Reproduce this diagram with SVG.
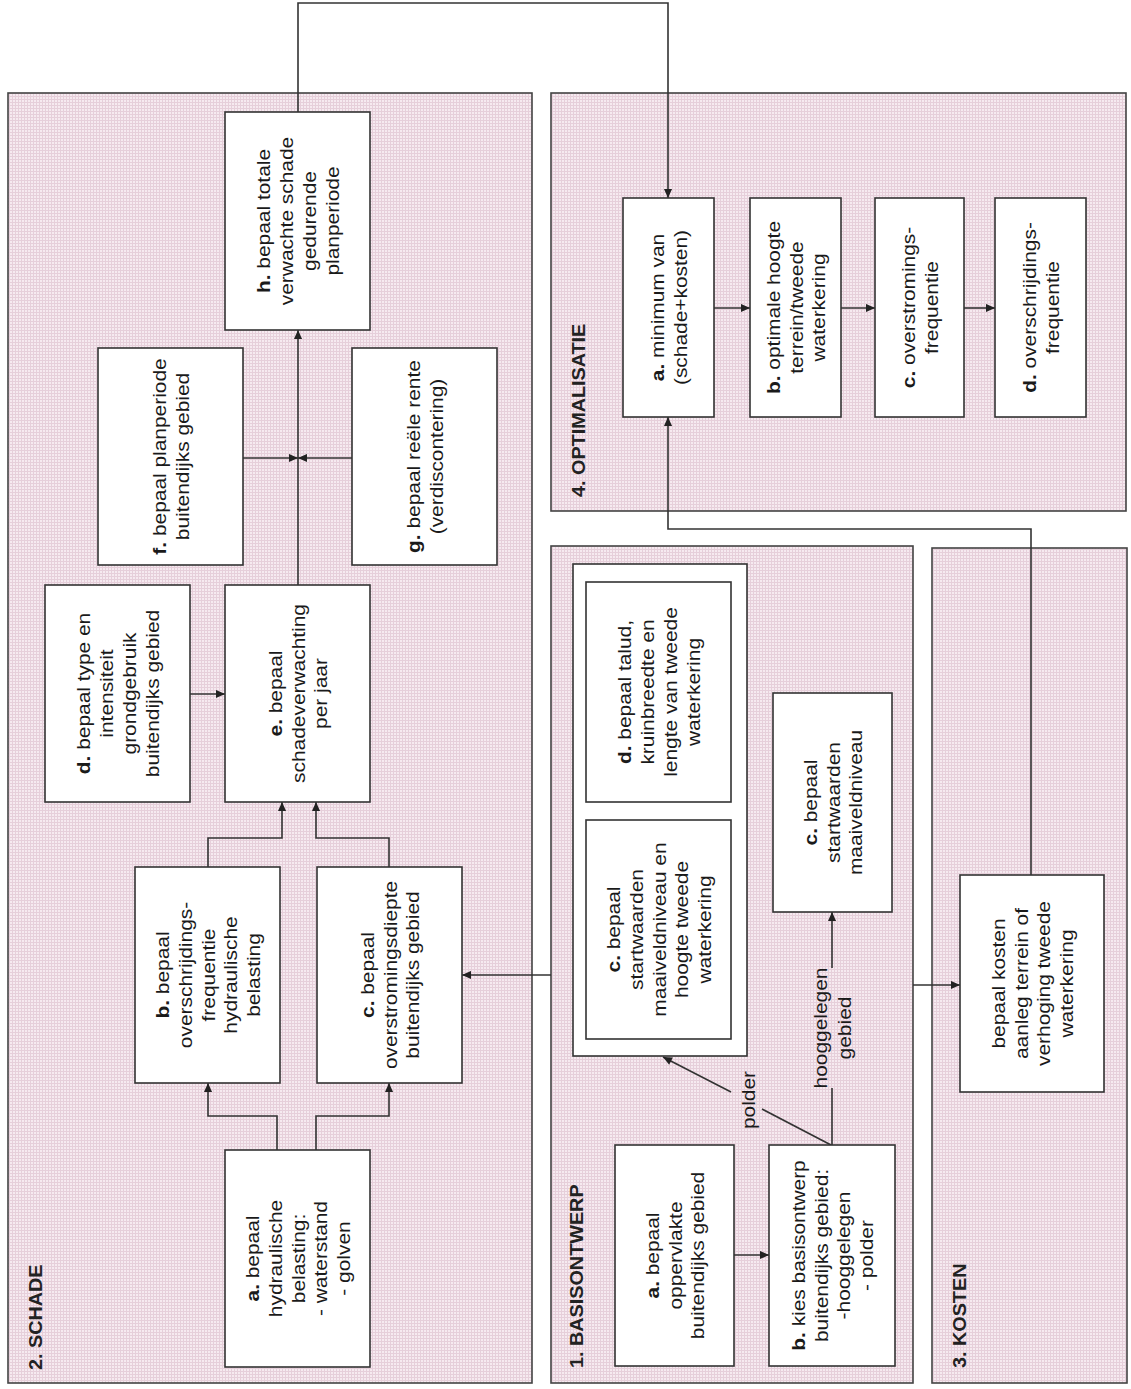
<svg xmlns="http://www.w3.org/2000/svg" width="1131" height="1389" viewBox="0 0 1131 1389">
<defs>
<pattern id="tone" width="3" height="3" patternUnits="userSpaceOnUse">
<rect width="3" height="3" fill="#f6eaf0"/>
<path d="M0 0.5H3M0.5 0V3" stroke="#e6cfda" stroke-width="1"/>
</pattern>
<marker id="arr" viewBox="0 0 10 10" refX="10" refY="5" markerWidth="10" markerHeight="9" markerUnits="userSpaceOnUse" orient="auto">
<path d="M0,0.5 L10,5 L0,9.5 z" fill="#222"/>
</marker>
</defs>
<style>
.panel{fill:url(#tone);stroke:#444;stroke-width:1.6}
.box{fill:#fff;stroke:#333;stroke-width:1.6}
.t{font-family:"Liberation Sans",Arial,sans-serif;font-size:19px;fill:#1a1a1a;text-anchor:middle}
.title{font-family:"Liberation Sans",Arial,sans-serif;font-size:18px;font-weight:bold;fill:#222}
.b{font-weight:bold}
.c{fill:none;stroke:#333;stroke-width:1.6}
.ca{fill:none;stroke:#333;stroke-width:1.6;marker-end:url(#arr)}
</style>
<rect width="1131" height="1389" fill="#fff"/>

<g id="panels">
<rect class="panel" x="8" y="93" width="524" height="1290"/>
<rect class="panel" x="551" y="93" width="575" height="418"/>
<rect class="panel" x="551" y="546" width="362" height="837"/>
<rect class="panel" x="932" y="548" width="195" height="835"/>
<text class="title" transform="translate(42,1370) rotate(-90) scale(1.1,1)">2. SCHADE</text>
<text class="title" transform="translate(585,497) rotate(-90) scale(1.1,1)">4. OPTIMALISATIE</text>
<text class="title" transform="translate(583,1368) rotate(-90) scale(1.1,1)">1. BASISONTWERP</text>
<text class="title" transform="translate(966,1368) rotate(-90) scale(1.1,1)">3. KOSTEN</text>
</g>

<g id="connectors">
<path class="ca" d="M298,112 V3 H668 V198"/>
<path class="ca" d="M298,585 V330"/>
<path class="ca" d="M243,458 H298"/>
<path class="ca" d="M352,458 H298"/>
<path class="ca" d="M190,694 H225"/>
<path class="ca" d="M208,867 V838 H282 V802"/>
<path class="ca" d="M389,867 V838 H316 V802"/>
<path class="ca" d="M277,1150 V1116 H208 V1083"/>
<path class="ca" d="M316,1150 V1116 H389 V1083"/>
<path class="ca" d="M551,975 H462"/>
<path class="ca" d="M714,308 H750"/>
<path class="ca" d="M841,308 H875"/>
<path class="ca" d="M964,308 H995"/>
<path class="ca" d="M1031,875 V529 H668 V417"/>
<path class="ca" d="M913,985 H960"/>
<path class="ca" d="M734,1255 H769"/>
<path class="c" d="M831,1145 L762,1109"/>
<path class="ca" d="M731,1092 L663,1057"/>
<path class="c" d="M832,1145 V1088"/>
<path class="ca" d="M832,968 V912"/>
<text class="t" transform="translate(748,1100) rotate(-90) scale(1.1,1)"><tspan x="0" y="7">polder</tspan></text>
<text class="t" transform="translate(832,1028) rotate(-90) scale(1.1,1)"><tspan x="0" y="-5">hooggelegen</tspan><tspan x="0" y="19">gebied</tspan></text>
</g>

<g id="schade-h">
<rect class="box" x="225" y="112" width="145" height="218"/>
<text class="t" transform="translate(297.5,221) rotate(-90) scale(1.1,1)"><tspan x="0" y="-27.5"><tspan class="b">h.</tspan> bepaal totale</tspan><tspan x="0" y="-4.5">verwachte schade</tspan><tspan x="0" y="18.5">gedurende</tspan><tspan x="0" y="41.5">planperiode</tspan></text>
</g>
<g id="schade-f">
<rect class="box" x="98" y="348" width="145" height="217"/>
<text class="t" transform="translate(170.5,456.5) rotate(-90) scale(1.1,1)"><tspan x="0" y="-4.5"><tspan class="b">f.</tspan> bepaal planperiode</tspan><tspan x="0" y="18.5">buitendijks gebied</tspan></text>
</g>
<g id="schade-g">
<rect class="box" x="352" y="348" width="145" height="217"/>
<text class="t" transform="translate(424.5,456.5) rotate(-90) scale(1.1,1)"><tspan x="0" y="-4.5"><tspan class="b">g.</tspan> bepaal reële rente</tspan><tspan x="0" y="18.5">(verdiscontering)</tspan></text>
</g>
<g id="schade-d">
<rect class="box" x="45" y="585" width="145" height="217"/>
<text class="t" transform="translate(117.5,693.5) rotate(-90) scale(1.1,1)"><tspan x="0" y="-27.5"><tspan class="b">d.</tspan> bepaal type en</tspan><tspan x="0" y="-4.5">intensiteit</tspan><tspan x="0" y="18.5">grondgebruik</tspan><tspan x="0" y="41.5">buitendijks gebied</tspan></text>
</g>
<g id="schade-e">
<rect class="box" x="225" y="585" width="145" height="217"/>
<text class="t" transform="translate(297.5,693.5) rotate(-90) scale(1.1,1)"><tspan x="0" y="-16"><tspan class="b">e.</tspan> bepaal</tspan><tspan x="0" y="7">schadeverwachting</tspan><tspan x="0" y="30">per jaar</tspan></text>
</g>
<g id="schade-b">
<rect class="box" x="135" y="867" width="145" height="216"/>
<text class="t" transform="translate(207.5,975) rotate(-90) scale(1.1,1)"><tspan x="0" y="-39"><tspan class="b">b.</tspan> bepaal</tspan><tspan x="0" y="-16">overschrijdings-</tspan><tspan x="0" y="7">frequentie</tspan><tspan x="0" y="30">hydraulische</tspan><tspan x="0" y="53">belasting</tspan></text>
</g>
<g id="schade-c">
<rect class="box" x="317" y="867" width="145" height="216"/>
<text class="t" transform="translate(389.5,975) rotate(-90) scale(1.1,1)"><tspan x="0" y="-16"><tspan class="b">c.</tspan> bepaal</tspan><tspan x="0" y="7">overstromingsdiepte</tspan><tspan x="0" y="30">buitendijks gebied</tspan></text>
</g>
<g id="schade-a">
<rect class="box" x="225" y="1150" width="145" height="217"/>
<text class="t" transform="translate(297.5,1258.5) rotate(-90) scale(1.1,1)"><tspan x="0" y="-39"><tspan class="b">a.</tspan> bepaal</tspan><tspan x="0" y="-16">hydraulische</tspan><tspan x="0" y="7">belasting:</tspan><tspan x="0" y="30">- waterstand</tspan><tspan x="0" y="53">- golven</tspan></text>
</g>

<g id="opt-a">
<rect class="box" x="623" y="198" width="91" height="219"/>
<text class="t" transform="translate(668.5,307.5) rotate(-90) scale(1.1,1)"><tspan x="0" y="-4.5"><tspan class="b">a.</tspan> minimum van</tspan><tspan x="0" y="18.5">(schade+kosten)</tspan></text>
</g>
<g id="opt-b">
<rect class="box" x="750" y="198" width="91" height="219"/>
<text class="t" transform="translate(795.5,307.5) rotate(-90) scale(1.1,1)"><tspan x="0" y="-16"><tspan class="b">b.</tspan> optimale hoogte</tspan><tspan x="0" y="7">terrein/tweede</tspan><tspan x="0" y="30">waterkering</tspan></text>
</g>
<g id="opt-c">
<rect class="box" x="875" y="198" width="89" height="219"/>
<text class="t" transform="translate(919.5,307.5) rotate(-90) scale(1.1,1)"><tspan x="0" y="-4.5"><tspan class="b">c.</tspan> overstromings-</tspan><tspan x="0" y="18.5">frequentie</tspan></text>
</g>
<g id="opt-d">
<rect class="box" x="995" y="198" width="91" height="219"/>
<text class="t" transform="translate(1040.5,307.5) rotate(-90) scale(1.1,1)"><tspan x="0" y="-4.5"><tspan class="b">d.</tspan> overschrijdings-</tspan><tspan x="0" y="18.5">frequentie</tspan></text>
</g>

<g id="basis-cd-group">
<rect class="box" x="573" y="564" width="174" height="492"/>
</g>
<g id="basis-d">
<rect class="box" x="586" y="582" width="145" height="220"/>
<text class="t" transform="translate(658.5,692) rotate(-90) scale(1.1,1)"><tspan x="0" y="-27.5"><tspan class="b">d.</tspan> bepaal talud,</tspan><tspan x="0" y="-4.5">kruinbreedte en</tspan><tspan x="0" y="18.5">lengte van tweede</tspan><tspan x="0" y="41.5">waterkering</tspan></text>
</g>
<g id="basis-c-polder">
<rect class="box" x="586" y="820" width="145" height="219"/>
<text class="t" transform="translate(658.5,929.5) rotate(-90) scale(1.1,1)"><tspan x="0" y="-39"><tspan class="b">c.</tspan> bepaal</tspan><tspan x="0" y="-16">startwaarden</tspan><tspan x="0" y="7">maaiveldniveau en</tspan><tspan x="0" y="30">hoogte tweede</tspan><tspan x="0" y="53">waterkering</tspan></text>
</g>
<g id="basis-c-hoog">
<rect class="box" x="773" y="693" width="119" height="219"/>
<text class="t" transform="translate(832.5,802.5) rotate(-90) scale(1.1,1)"><tspan x="0" y="-16"><tspan class="b">c.</tspan> bepaal</tspan><tspan x="0" y="7">startwaarden</tspan><tspan x="0" y="30">maaiveldniveau</tspan></text>
</g>
<g id="basis-a">
<rect class="box" x="615" y="1145" width="119" height="221"/>
<text class="t" transform="translate(674.5,1255.5) rotate(-90) scale(1.1,1)"><tspan x="0" y="-16"><tspan class="b">a.</tspan> bepaal</tspan><tspan x="0" y="7">oppervlakte</tspan><tspan x="0" y="30">buitendijks gebied</tspan></text>
</g>
<g id="basis-b">
<rect class="box" x="769" y="1145" width="126" height="221"/>
<text class="t" transform="translate(832,1255.5) rotate(-90) scale(1.1,1)"><tspan x="0" y="-27.5"><tspan class="b">b.</tspan> kies basisontwerp</tspan><tspan x="0" y="-4.5">buitendijks gebied:</tspan><tspan x="0" y="18.5">-hooggelegen</tspan><tspan x="0" y="41.5">- polder</tspan></text>
</g>

<g id="kosten">
<rect class="box" x="960" y="875" width="144" height="217"/>
<text class="t" transform="translate(1032,983.5) rotate(-90) scale(1.1,1)"><tspan x="0" y="-27.5">bepaal kosten</tspan><tspan x="0" y="-4.5">aanleg terrein of</tspan><tspan x="0" y="18.5">verhoging tweede</tspan><tspan x="0" y="41.5">waterkering</tspan></text>
</g>
</svg>
